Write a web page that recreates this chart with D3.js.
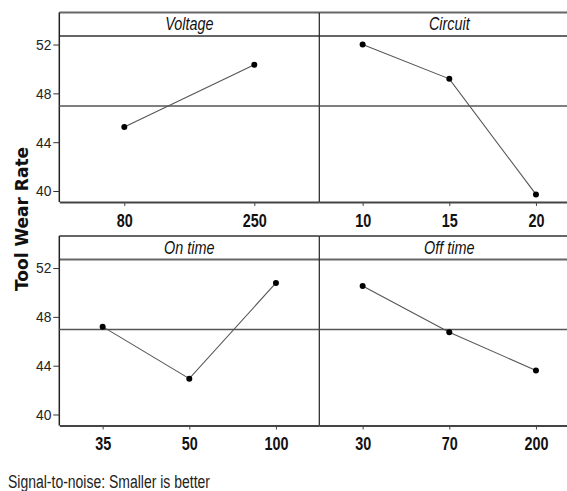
<!DOCTYPE html>
<html>
<head>
<meta charset="utf-8">
<script src="https://cdn.jsdelivr.net/npm/d3@7"></script>
<style>
    body { margin: 0; background: #fff; }
    svg { display: block; }
</style>
</head>
<body>
<div id="chart"></div>
<script>
var factorNames = ["Voltage", "Circuit", "On time", "Off time"];
var voltageLevels = ["80", "250"],
    voltageSN = [45.24, 50.34];
var circuitLevels = ["10", "15", "20"],
    circuitSN = [52.0, 49.19, 39.72];
var onTimeLevels = ["35", "50", "100"],
    onTimeSN = [47.2, 42.94, 50.78];
var offTimeLevels = ["30", "70", "200"],
    offTimeSN = [50.53, 46.74, 43.61];
var meanSN = 46.97;
var yTicks = [40, 44, 48, 52];

var width = 567, height = 491;
var narrow = "'Liberation Sans', Arial, sans-serif";

// panel frame: two columns, two rows
var colX = [59.3, 319.3],
    colW = 260,
    rowTop = [12.5, 236],
    headerH = 23.5,
    plotH = 166;

var svg = d3.select("#chart").append("svg")
    .attr("width", width)
    .attr("height", height);

var panels = [
    { name: factorNames[0], levels: voltageLevels, values: voltageSN, col: 0, row: 0 },
    { name: factorNames[1], levels: circuitLevels, values: circuitSN, col: 1, row: 0 },
    { name: factorNames[2], levels: onTimeLevels, values: onTimeSN, col: 0, row: 1 },
    { name: factorNames[3], levels: offTimeLevels, values: offTimeSN, col: 1, row: 1 }
];

// squeeze text horizontally, the original uses a condensed face
function condense(sel, k) {
    sel.each(function() {
        let w = this.getComputedTextLength();
        d3.select(this)
            .attr("textLength", w * k)
            .attr("lengthAdjust", "spacingAndGlyphs");
    });
}

function drawPanel(p) {
    let x0 = colX[p.col],
        top = rowTop[p.row],
        plotTop = top + headerH,
        plotBottom = plotTop + plotH;

    let x = d3.scalePoint()
        .domain(p.levels)
        .range([x0, x0 + colW])
        .padding(0.5);

    let y = d3.scaleLinear()
        .domain([39.1, 52.7])
        .range([plotBottom, plotTop]);

    let g = svg.append("g");

    // header strip lines
    g.append("line")
        .attr("x1", x0).attr("x2", x0 + colW)
        .attr("y1", top).attr("y2", top)
        .attr("stroke", "#666").attr("stroke-width", 2);
    g.append("line")
        .attr("x1", x0).attr("x2", x0 + colW)
        .attr("y1", plotTop).attr("y2", plotTop)
        .attr("stroke", "#666").attr("stroke-width", 2);

    // left border (full height)
    g.append("line")
        .attr("x1", x0).attr("x2", x0)
        .attr("y1", top).attr("y2", plotBottom)
        .attr("stroke", "#222").attr("stroke-width", p.col === 0 ? 1.5 : 1.2);

    g.append("text")
        .attr("x", x0 + colW / 2)
        .attr("y", top + 17.5)
        .attr("text-anchor", "middle")
        .attr("font-family", narrow)
        .attr("font-style", "italic")
        .attr("font-size", "18px")
        .attr("fill", "#111")
        .text(p.name)
        .call(condense, 0.8);

    // mean line
    g.append("line")
        .attr("x1", x0).attr("x2", x0 + colW)
        .attr("y1", y(meanSN)).attr("y2", y(meanSN))
        .attr("stroke", "#555").attr("stroke-width", 1.6);

    // x axis
    let xAxis = g.append("g")
        .attr("transform", "translate(0," + plotBottom + ")")
        .call(d3.axisBottom(x).tickSize(4).tickSizeOuter(0).tickPadding(8));
    xAxis.select(".domain")
        .attr("stroke", "#444").attr("stroke-width", 2);
    xAxis.selectAll(".tick line").attr("stroke", "#444");
    xAxis.selectAll(".tick text")
        .attr("font-family", narrow)
        .attr("font-weight", "bold")
        .attr("font-size", "18px")
        .attr("fill", "#111")
        .call(condense, 0.8);

    if (p.col === 0) {
        let yAxis = g.append("g")
            .attr("transform", "translate(" + x0 + ",0)")
            .call(d3.axisLeft(y).tickValues(yTicks).tickSize(6).tickPadding(2));
        yAxis.select(".domain").remove();
        yAxis.selectAll(".tick line").attr("stroke", "#333");
        yAxis.selectAll(".tick text")
            .attr("font-family", narrow)
            .attr("font-size", "15px")
            .attr("fill", "#222")
            .call(condense, 0.92);
    }

    let line = d3.line()
        .x(function(d, i) { return x(p.levels[i]); })
        .y(function(d) { return y(d); });

    g.append("path")
        .datum(p.values)
        .attr("d", line)
        .attr("fill", "none")
        .attr("stroke", "#555")
        .attr("stroke-width", 1.1);

    g.selectAll("circle")
        .data(p.values)
        .enter().append("circle")
        .attr("cx", function(d, i) { return x(p.levels[i]); })
        .attr("cy", function(d) { return y(d); })
        .attr("r", 3)
        .attr("fill", "#000");
}

panels.forEach(drawPanel);

svg.append("text")
    .attr("transform", "translate(28,219) rotate(-90)")
    .attr("text-anchor", "middle")
    .attr("font-family", "'DejaVu Sans', Verdana, sans-serif")
    .attr("font-weight", "bold")
    .attr("font-size", "17px")
    .attr("fill", "#111")
    .text("Tool Wear Rate");

svg.append("text")
    .attr("x", 8)
    .attr("y", 488)
    .attr("font-family", narrow)
    .attr("font-size", "18px")
    .attr("textLength", 202)
    .attr("lengthAdjust", "spacingAndGlyphs")
    .attr("fill", "#222")
    .text("Signal-to-noise: Smaller is better");
</script>
</body>
</html>
